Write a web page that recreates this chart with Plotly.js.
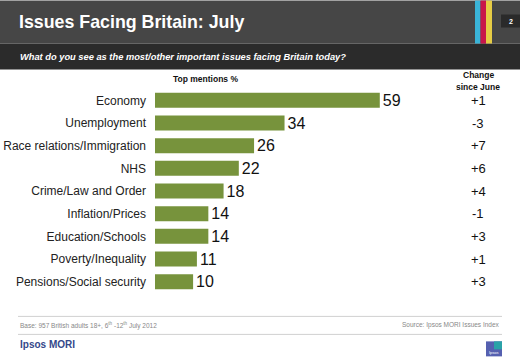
<!DOCTYPE html>
<html><head><meta charset="utf-8">
<script src="https://cdn.plot.ly/plotly-3.0.1.min.js"></script>
<style>html,body{margin:0;padding:0;background:#fff;}#chart{width:520px;height:358px;}</style>
</head><body><div id="chart"></div>
<script>
const categories = ["Economy","Unemployment","Race relations/Immigration","NHS","Crime/Law and Order","Inflation/Prices","Education/Schools","Poverty/Inequality","Pensions/Social security"];
const mentions = [59,34,26,22,18,14,14,11,10];
const changes = ["+1","-3","+7","+6","+4","-1","+3","+1","+3"];

const W = 520, H = 358;
const L = 155, R = 440, T = 88.5, B = 292.6;
const PW = R - L, PH = B - T;
const px = x => (x - L) / PW;
const py = y => 1 - (y - T) / PH;

const F = "Arial, 'Liberation Sans', sans-serif";

const trace = {
  type: 'bar', orientation: 'h',
  y: categories, x: mentions,
  marker: {color: '#77933c', line: {width: 0}},
  text: mentions.map(String), textposition: 'outside',
  textfont: {family: F, size: 16, color: '#111'},
  cliponaxis: false, constraintext: 'none',
  width: 0.66, hoverinfo: 'none'
};

const rect = (x0,y0,x1,y1,color) => ({type:'rect', xref:'paper', yref:'paper', x0:px(x0), x1:px(x1), y0:py(y0), y1:py(y1), fillcolor:color, line:{width:0}, layer:'below'});
const hline = (x0,x1,y,color) => ({type:'line', xref:'paper', yref:'paper', x0:px(x0), x1:px(x1), y0:py(y), y1:py(y), line:{color:color, width:1}});

const shapes = [
  rect(0,0,520,43,'#464646'),
  rect(0,43,520,69,'#2b2b2b'),
  rect(475,0,480.5,43,'#3ab4d8'),
  rect(480.5,0,486,43,'#c8164a'),
  rect(486,0,492,43,'#e6cc45'),
  rect(501,14,520,27,'#2a2a2a'),
  hline(18,502,316,'#d0d0d0'),
  hline(18,502,334,'#d0d0d0'),
  rect(486,341,502,356,'#5560b0'),
  rect(494,341,502,349,'#2aa3a8')
];

const ann = (x,y,text,opts) => Object.assign({xref:'paper', yref:'paper', x:px(x), y:py(y), text:text, showarrow:false, xanchor:'left', yanchor:'middle', font:{family:F, size:10, color:'#222'}}, opts||{});

const annotations = [
  ann(17,21,'<b>Issues Facing Britain: July</b>',{font:{family:F,size:17.8,color:'#fff'}}),
  ann(18,56,'<b><i>What do you see as the most/other important issues facing Britain today?</i></b>',{font:{family:F,size:9.3,color:'#fff'}}),
  ann(510.5,20.5,'<b>2</b>',{xanchor:'center',font:{family:F,size:7,color:'#fff'}}),
  ann(205,78,'<b>Top mentions %</b>',{xanchor:'center',font:{family:F,size:8.5,color:'#111'}}),
  ann(478,74,'<b>Change</b>',{xanchor:'center',font:{family:F,size:8.5,color:'#111'}}),
  ann(478,86,'<b>since June</b>',{xanchor:'center',font:{family:F,size:8.5,color:'#111'}}),
  ann(18,325,'Base: 957 British adults 18+, 6<sup>th</sup> -12<sup>th</sup> July 2012',{font:{family:F,size:6.5,color:'#888'}}),
  ann(502,325,'Source: Ipsos MORI Issues Index',{xanchor:'right',font:{family:F,size:6.5,color:'#888'}}),
  ann(18,344,'<b>Ipsos MORI</b>',{font:{family:F,size:10,color:'#34488a'}}),
  ann(494,352.5,'Ipsos',{xanchor:'center',font:{family:F,size:4,color:'#fff'}})
];

categories.forEach((c,i) => {
  annotations.push({xref:'paper', yref:'y', x:px(478), y:c, text:changes[i], showarrow:false, xanchor:'center', yanchor:'middle', font:{family:F, size:13, color:'#111'}});
});

const layout = {
  width: W, height: H,
  margin: {l: L, r: W - R, t: T, b: H - B, pad: 0},
  paper_bgcolor: '#fff', plot_bgcolor: 'rgba(0,0,0,0)',
  showlegend: false,
  xaxis: {range: [0, PW/3.81], visible: false, fixedrange: true},
  yaxis: {autorange: 'reversed', range: [8.5,-0.5], showgrid: false, zeroline: false, showline: false, ticks: '', ticklabelstandoff: 8, tickfont: {family: F, size: 12, color: '#222'}, fixedrange: true},
  shapes: shapes, annotations: annotations
};

Plotly.newPlot('chart', [trace], layout, {staticPlot: true, displayModeBar: false});
</script></body></html>
